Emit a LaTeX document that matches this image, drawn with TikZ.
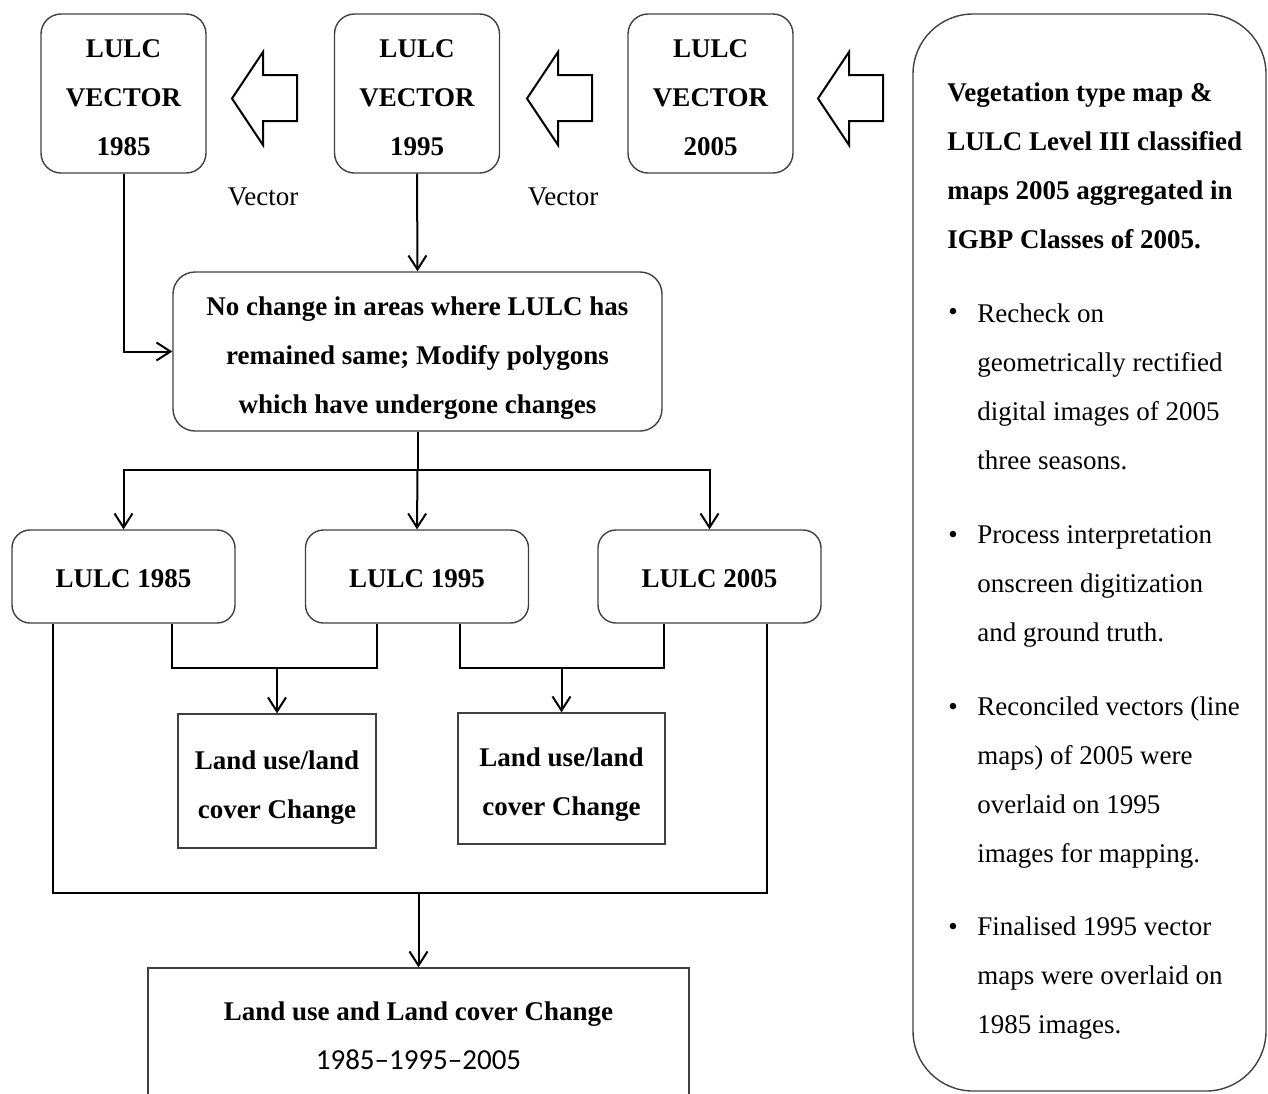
\documentclass[tikz,border=0pt]{standalone}
\usepackage{fontspec}
\setmainfont{Liberation Serif}
\newfontfamily\calib{Carlito}
\usetikzlibrary{arrows.meta}
\newcommand\mystrut[1]{\rule{0pt}{#1}}
\begin{document}
\begin{tikzpicture}[x=0.5pt,y=-0.5pt,
 bfont/.style={font=\bfseries\fontsize{13.5}{24.5}\selectfont},
 rbox/.style={bfont,draw=black!75,line width=0.7pt,rounded corners=10pt,align=center,inner sep=0pt},
 sbox/.style={bfont,draw=black!75,line width=0.7pt,align=center,inner sep=0pt},
 conn/.style={line width=1pt,black},
 arr/.style={conn,-{Straight Barb[length=7pt,width=9pt]}},
 blockarr/.style={line width=1pt,black,line join=miter},
 txt/.style={font=\fontsize{13.5}{24.5}\selectfont,align=left,inner sep=0pt},
 bul/.style={font=\fontsize{13.5}{24.5}\selectfont,inner sep=0pt}
]
\useasboundingbox (0,0) rectangle (1268,1093);
\clip (0,0) rectangle (1268,1093);

% top vector boxes
\node[rbox,minimum width=82.5pt,minimum height=79.5pt] (v85) at (123.5,93.5) {\mystrut{13.3pt}LULC\\VECTOR\\1985};
\node[rbox,minimum width=82.5pt,minimum height=79.5pt] (v95) at (417,93.5) {\mystrut{13.3pt}LULC\\VECTOR\\1995};
\node[rbox,minimum width=82.5pt,minimum height=79.5pt] (v05) at (710.5,93.5) {\mystrut{13.3pt}LULC\\VECTOR\\2005};

% block arrows
\foreach \dx in {0,295,586}{
  \draw[blockarr,shift={(\dx,0)}] (232,98.5) -- (263,52) -- (263,75) -- (297,75) -- (297,121) -- (263,121) -- (263,145) -- cycle;
}

\node[txt] (vec1) at (263,197) {Vector};
\node[txt] (vec2) at (563,197) {Vector};

% middle box
\node[rbox,rounded corners=11pt,minimum width=244.5pt,minimum height=79.5pt] (mid) at (417.5,351.5)
 {\mystrut{16pt}No change in areas where LULC has\\remained same; Modify polygons\\which have undergone changes};

% LULC boxes
\node[rbox,rounded corners=9pt,minimum width=111.5pt,minimum height=46.5pt] (l85) at (123.5,576.5) {\mystrut{11.3pt}LULC 1985};
\node[rbox,rounded corners=9pt,minimum width=111.5pt,minimum height=46.5pt] (l95) at (417,576.5) {\mystrut{11.3pt}LULC 1995};
\node[rbox,rounded corners=9pt,minimum width=111.5pt,minimum height=46.5pt] (l05) at (709.5,576.5) {\mystrut{11.3pt}LULC 2005};

% change boxes
\node[sbox,minimum width=99pt,minimum height=67pt] (ch1) at (277,781) {\mystrut{15.8pt}Land use/land\\cover Change};
\node[sbox,minimum width=103.5pt,minimum height=65.5pt] (ch2) at (561.5,778.5) {\mystrut{15.5pt}Land use/land\\cover Change};

% final box (cut at bottom)
\node[sbox,minimum width=270.5pt,minimum height=81pt] (fin) at (418.5,1049) {};
\node[inner sep=0pt,align=center,font=\fontsize{13.5}{24.5}\selectfont] (fintxt) at (418.5,1036)
 {\textbf{Land use and Land cover Change}\\{\calib\fontsize{14.5}{24.5}\selectfont 1985\textendash 1995\textendash 2005}};

% right panel
\node[draw=black!75,line width=0.7pt,rounded corners=30pt,minimum width=176.5pt,minimum height=538.5pt,inner sep=0pt] (panel) at (1089.5,552.5) {};
\node[txt,bfont,anchor=west] (ptitle) at (947,166) {Vegetation type map \&\\LULC Level III classified\\maps 2005 aggregated in\\IGBP Classes of 2005.};

\node[bul] (b1) at (953,314) {•};
\node[txt,anchor=west] (p1) at (977,387) {Recheck on\\geometrically rectified\\digital images of 2005\\three seasons.};
\node[bul] (b2) at (953,537) {•};
\node[txt,anchor=west] (p2) at (977,586) {Process interpretation\\onscreen digitization\\and ground truth.};
\node[bul] (b3) at (953,709) {•};
\node[txt,anchor=west] (p3) at (977,782.5) {Reconciled vectors (line\\maps) of 2005 were\\overlaid on 1995\\images for mapping.};
\node[bul] (b4) at (953,929) {•};
\node[txt,anchor=west] (p4) at (977,978) {Finalised 1995 vector\\maps were overlaid on\\1985 images.};

% connectors
\draw[arr] (v95.south) -- (mid.north);
\draw[arr] (v85.south) |- (mid.west);

\coordinate (split) at (417.5,470);
\draw[conn] (mid.south) -- (split);
\draw[arr] (split) -| (l85.north);
\draw[arr] (split) -| (l05.north);
\draw[arr] (split) -- (l95.north);

\coordinate (j1) at (277,668);
\draw[conn] ([xshift=24.25pt]l85.south) |- (j1) -| ([xshift=-20pt]l95.south);
\draw[arr] (j1) -- (ch1.north);

\coordinate (j2) at (561.5,668);
\draw[conn] ([xshift=21.5pt]l95.south) |- (j2) -| ([xshift=-22.75pt]l05.south);
\draw[arr] (j2) -- (ch2.north);

\coordinate (j3) at (418.5,893);
\draw[conn] ([xshift=-35.25pt]l85.south) |- (j3) -| ([xshift=28.75pt]l05.south);
\draw[arr] (j3) -- (fin.north);

\end{tikzpicture}
\end{document}
